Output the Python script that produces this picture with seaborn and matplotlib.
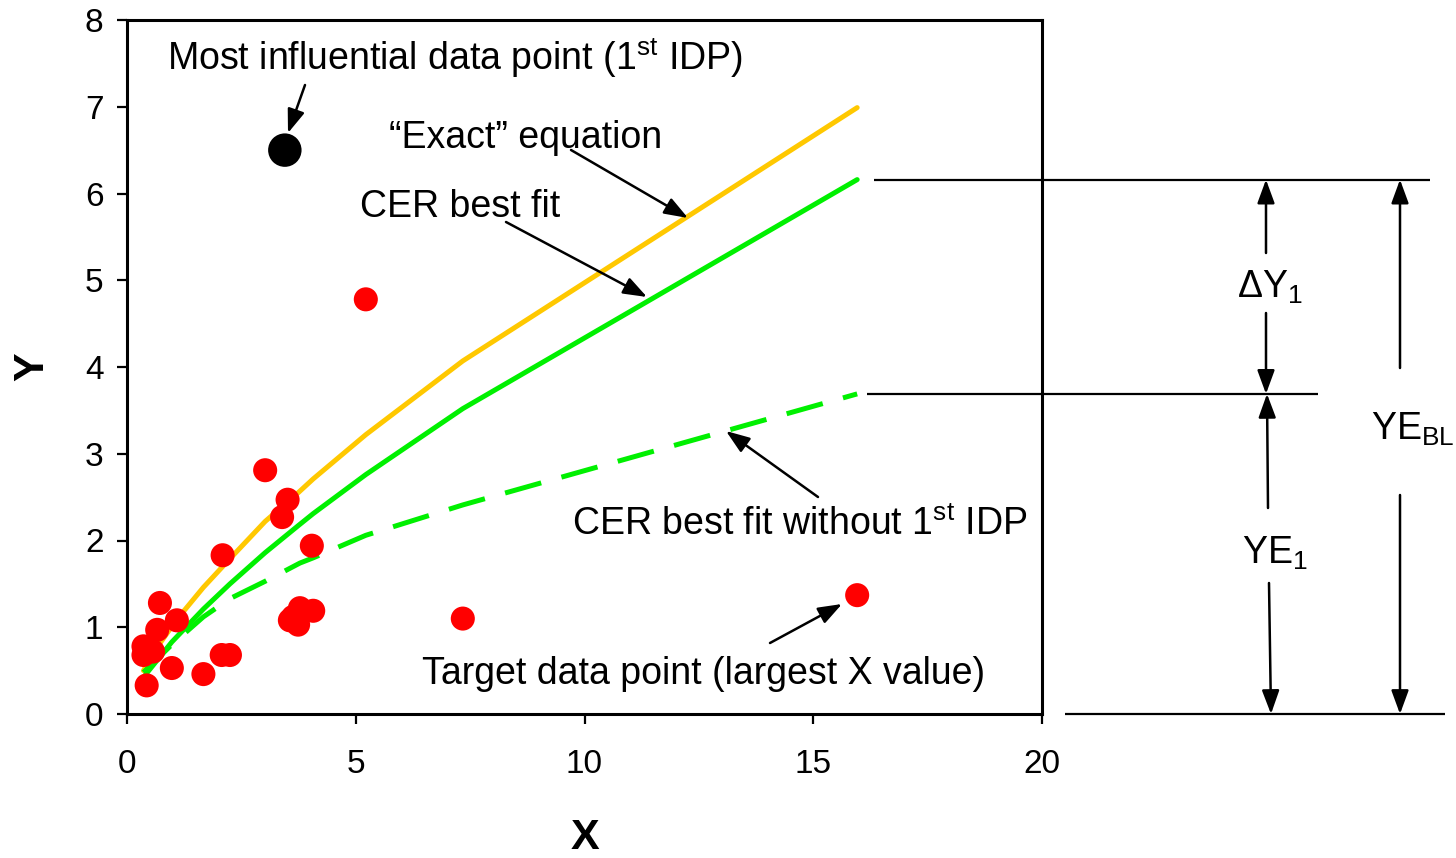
import matplotlib
matplotlib.use("Agg")
import matplotlib.pyplot as plt
import matplotlib.transforms as mtransforms
import seaborn as sns

# Observed data points
pts_x = [0.36, 0.36, 0.43, 0.57, 0.66, 0.72, 0.98, 1.09, 1.67, 2.07, 2.09, 2.25,
         3.02, 3.39, 3.51, 3.56, 3.63, 3.74, 3.78, 4.04, 4.07, 5.22, 7.34, 15.96]
pts_y = [0.78, 0.68, 0.33, 0.72, 0.97, 1.28, 0.53, 1.08, 0.46, 0.68, 1.83, 0.68,
         2.81, 2.27, 2.47, 1.08, 1.12, 1.03, 1.22, 1.94, 1.19, 4.78, 1.10, 1.37]

# Most influential data point
idp_x = [3.45]
idp_y = [6.50]

# "Exact" equation
exact_x = [0.36, 0.66, 1.09, 1.67, 2.25, 3.02, 3.74, 4.07, 5.22, 7.34, 15.96]
exact_y = [0.50, 0.77, 1.09, 1.46, 1.79, 2.22, 2.55, 2.71, 3.22, 4.07, 6.99]

# CER best fit (all points)
fit_x = [0.40, 0.98, 1.67, 2.25, 3.02, 3.74, 4.07, 5.22, 7.34, 15.96]
fit_y = [0.45, 0.83, 1.21, 1.50, 1.86, 2.17, 2.31, 2.76, 3.52, 6.16]

# CER best fit without the most influential point
wo_x = [0.36, 0.98, 1.67, 2.25, 3.02, 3.78, 4.07, 5.22, 7.34, 15.96]
wo_y = [0.48, 0.80, 1.12, 1.33, 1.53, 1.74, 1.80, 2.06, 2.41, 3.69]

x_ticks = [0, 5, 10, 15, 20]
y_ticks = [0, 1, 2, 3, 4, 5, 6, 7, 8]

W, H = 1456, 858

sns.set_theme(style="ticks")
plt.rcParams["font.family"] = ["Liberation Sans", "DejaVu Sans"]
plt.rcParams["text.color"] = "black"
plt.rcParams["mathtext.fontset"] = "custom"
plt.rcParams["mathtext.rm"] = "Liberation Sans"
plt.rcParams["mathtext.it"] = "Liberation Sans:italic"
plt.rcParams["mathtext.bf"] = "Liberation Sans:bold"

fig = plt.figure(figsize=(W / 100, H / 100), dpi=100)
ax = fig.add_axes([127 / W, 1 - 714 / H, (1042 - 127) / W, (714 - 20) / H])


def fx(px):
    return px / W


def fy(py):
    return 1 - py / H


orange = "#FFC800"
green = "#00F000"
lw_line = 3.6

sns.lineplot(x=exact_x, y=exact_y, ax=ax, color=orange, lw=lw_line,
             estimator=None, sort=False, zorder=2)
sns.lineplot(x=fit_x, y=fit_y, ax=ax, color=green, lw=lw_line,
             estimator=None, sort=False, zorder=2)
sns.lineplot(x=wo_x, y=wo_y, ax=ax, color=green, lw=lw_line,
             estimator=None, sort=False, linestyle=(0, (7.5, 4.2)), zorder=2)

sns.scatterplot(x=pts_x, y=pts_y, ax=ax, color="#FF0000", s=300,
                edgecolor="none", linewidth=0, zorder=3)
sns.scatterplot(x=idp_x, y=idp_y, ax=ax, color="black", s=580,
                edgecolor="none", linewidth=0, zorder=3)

ax.set_xlim(0, 20)
ax.set_ylim(0, 8)
ax.set_xticks(x_ticks)
ax.set_yticks(y_ticks)
ax.set_xticklabels([str(v) for v in x_ticks])
ax.set_yticklabels([str(v) for v in y_ticks])
for sp in ax.spines.values():
    sp.set_linewidth(2.2)
    sp.set_color("black")
ax.tick_params(axis="both", direction="out", length=7, width=1.6,
               labelsize=24, colors="black", labelcolor="black")
ax.tick_params(axis="x", pad=18)
ax.tick_params(axis="y", pad=10)
ax.set_xlabel("")
ax.set_ylabel("")
ax.grid(False)

fig.text(fx(585), fy(838), "X", fontsize=31, fontweight="bold",
         ha="center", va="center", color="black")
fig.text(fx(32), fy(367), "Y", fontsize=31, fontweight="bold",
         ha="center", va="center", rotation=90, color="black")

fs = 27
head = dict(arrowstyle="-|>,head_length=0.6,head_width=0.22",
            mutation_scale=24, lw=1.8, color="black", shrinkA=0, shrinkB=0)


def arrow(tail, tip, coords="figure fraction"):
    ax.annotate("", xy=tip, xytext=tail, xycoords=coords, textcoords=coords,
                arrowprops=head, annotation_clip=False)


def label(px, py, s):
    fig.text(fx(px), fy(py), s, fontsize=fs, ha="left", va="baseline",
             color="black")


# Annotations inside the plot
label(167, 69.5, r"Most influential data point (1$^{\mathrm{st}}$ IDP)")
arrow((fx(305), fy(85)), (fx(288), fy(133)))

label(389, 148, "\u201cExact\u201d equation")
arrow((fx(571), fy(150)), (fx(688), fy(218)))

label(360, 217, "CER best fit")
arrow((fx(506), fy(222)), (fx(647), fy(297)))

label(572, 535, r"CER best fit without 1$^{\mathrm{st}}$ IDP")
arrow((fx(818), fy(497)), (fx(726), fy(431)))

label(422, 684, "Target data point (largest X value)")
arrow((fx(770), fy(643)), (fx(842), fy(604)))

# Reference levels to the right of the plot
blend = mtransforms.blended_transform_factory(fig.transFigure, ax.transData)
top_level = fit_y[-1]
mid_level = wo_y[-1]
base_level = 0.0

for x0, x1, lev in [(874, 1430, top_level), (867, 1318, mid_level),
                    (1065, 1445, base_level)]:
    ax.plot([fx(x0), fx(x1)], [lev, lev], transform=blend, color="black",
            lw=1.6, clip_on=False, solid_capstyle="butt")


def px_to_y(py):
    return (714 - py) / 86.75


# Delta Y1
arrow((fx(1266), px_to_y(253)), (fx(1266), top_level), coords=blend)
arrow((fx(1266), px_to_y(313)), (fx(1266), mid_level), coords=blend)
label(1237, 298, r"$\Delta$Y$_{1}$")

# YE1
arrow((fx(1268), px_to_y(508)), (fx(1267), mid_level), coords=blend)
arrow((fx(1269), px_to_y(583)), (fx(1271), base_level), coords=blend)
label(1242, 564, r"YE$_{1}$")

# YE_BL
arrow((fx(1400), px_to_y(368)), (fx(1400), top_level), coords=blend)
arrow((fx(1400), px_to_y(495)), (fx(1400), base_level), coords=blend)
label(1371, 440, r"YE$_{\mathrm{BL}}$")

fig.savefig("out.png", dpi=100)
